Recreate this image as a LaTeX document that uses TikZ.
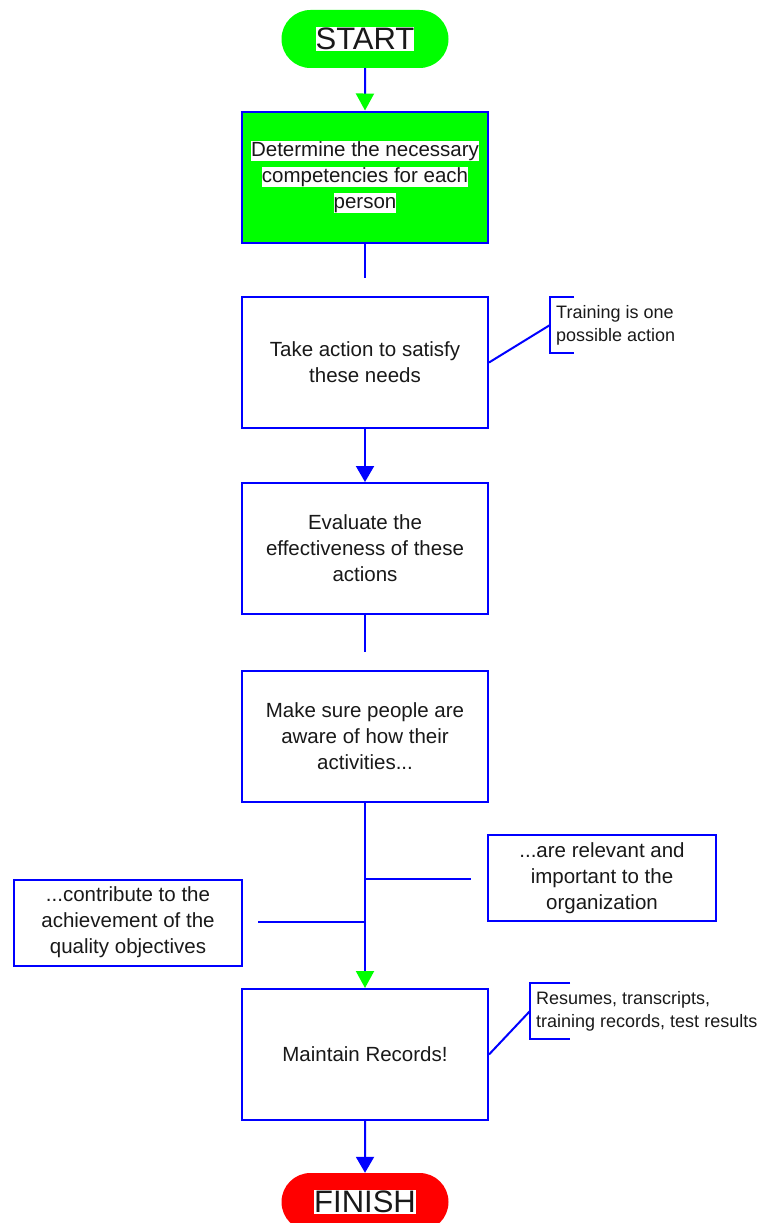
\documentclass[tikz,border=0pt]{standalone}
\usepackage{fontspec}
\setmainfont{Liberation Sans}
\usetikzlibrary{arrows.meta,shapes.misc}
\definecolor{fcgreen}{RGB}{0,255,0}
\definecolor{fcblue}{RGB}{0,0,255}
\definecolor{fcred}{RGB}{255,0,0}
\definecolor{ink}{RGB}{25,25,25}
% white highlight behind a line of text
\newcommand{\hlline}[1]{{\setlength{\fboxsep}{0pt}\colorbox{white}{\rule[-4pt]{0pt}{19pt}#1}}}
\newcommand{\hlterm}[1]{{\setlength{\fboxsep}{0pt}\colorbox{white}{\rule[-2pt]{0pt}{24pt}#1}}}

\begin{document}
\begin{tikzpicture}[x=1pt,y=-1pt,
  stepbox/.style={draw=fcblue, line width=2pt, fill=white, minimum width=246pt,
    minimum height=131pt, inner sep=0pt, align=center,
    font=\fontsize{20.5}{26}\selectfont, text=ink},
  sidebox/.style={draw=fcblue, line width=2pt, fill=white, minimum width=228pt,
    minimum height=86pt, inner sep=0pt, align=center,
    font=\fontsize{20.5}{26}\selectfont, text=ink},
  terminal/.style={rounded rectangle, minimum width=167pt, minimum height=58pt,
    inner sep=0pt, font=\fontsize{31}{31}\selectfont, text=ink},
  note/.style={anchor=west, align=left, inner xsep=6pt, inner ysep=0pt,
    minimum height=56pt, font=\fontsize{18}{23}\selectfont, text=ink},
  link/.style={draw=fcblue, line width=2pt},
  tipgreen/.style={link, -{Triangle[width=18pt,length=17pt,color=fcgreen]}},
  tipblue/.style={link, -{Triangle[width=18pt,length=16pt,color=fcblue]}},
]
\useasboundingbox (0,0) rectangle (759,1223);

% terminals
\node[terminal, fill=fcgreen] (start) at (365,39) {\hlterm{START}};
\node[terminal, fill=fcred] (finish) at (365,1202) {\hlterm{FINISH}};

% process steps
\node[stepbox, fill=fcgreen] (b1) at (365,177)
  {\hlline{Determine the necessary}\\\hlline{competencies for each}\\\hlline{person}};
\node[stepbox] (b2) at (365,362.5) {Take action to satisfy\\these needs};
\node[stepbox] (b3) at (365,548.5) {Evaluate the\\effectiveness of these\\actions};
\node[stepbox] (b4) at (365,736.5) {Make sure people are\\aware of how their\\activities...};
\node[stepbox] (b5) at (365,1054.5) {Maintain Records!};

% side boxes
\node[sidebox] (sr) at (602,878) {...are relevant and\\important to the\\organization};
\node[sidebox] (sl) at (128,922.5) {...contribute to the\\achievement of the\\quality objectives};

% notes with brackets
\node[note] (n1) at (550,325) {Training is one\\possible action};
\node[note] (n2) at (530,1011) {Resumes, transcripts,\\training records, test results};
\draw[link] ([xshift=24pt]n1.north west) -- (n1.north west) -- (n1.south west) -- ([xshift=24pt]n1.south west);
\draw[link] ([xshift=40pt]n2.north west) -- (n2.north west) -- (n2.south west) -- ([xshift=40pt]n2.south west);
\draw[link] (b2.east) -- (n1.west);
\draw[link] (b5.east) -- (n2.west);

% open line ends and junctions
\coordinate (g1) at (365,278);
\coordinate (g2) at (365,652);
\coordinate (jr) at (365,879);
\coordinate (er) at (471,879);
\coordinate (jl) at (365,922);
\coordinate (el) at (258,922);

% connectors
\draw[tipgreen] (start) -- (b1);
\draw[link] (b1.south) -- (g1);
\draw[tipblue] (b2) -- (b3);
\draw[link] (b3.south) -- (g2);
\draw[tipgreen] (b4) -- (b5);
\draw[link] (jr) -- (er);
\draw[link] (jl) -- (el);
\draw[tipblue] (b5) -- (finish);
\end{tikzpicture}
\end{document}
